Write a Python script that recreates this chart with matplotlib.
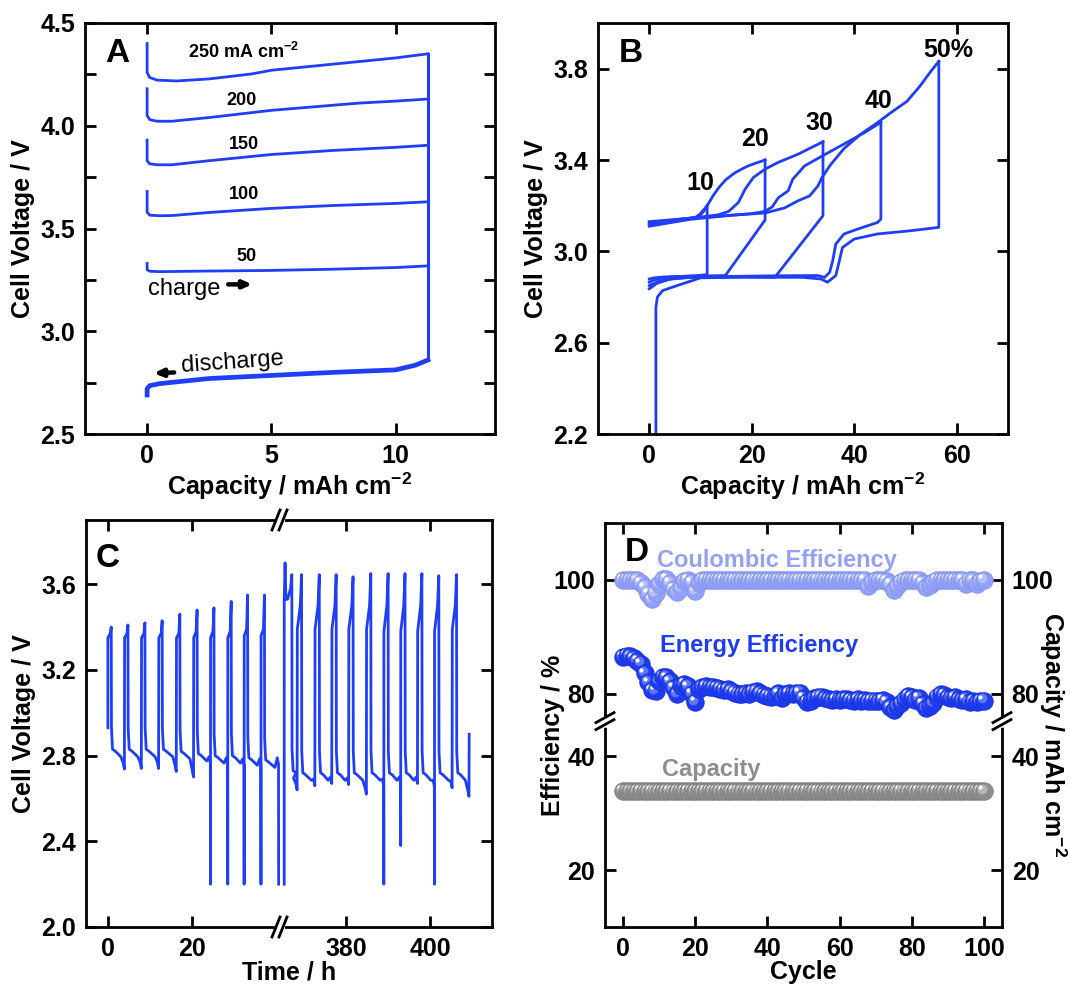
import numpy as np
import matplotlib
matplotlib.use('Agg')
import matplotlib.pyplot as plt
from matplotlib.ticker import MultipleLocator
from matplotlib.transforms import offset_copy

plt.rcParams['font.family'] = ['Liberation Sans', 'DejaVu Sans']
plt.rcParams['font.weight'] = 'bold'
plt.rcParams['axes.labelweight'] = 'bold'
plt.rcParams['mathtext.default'] = 'regular'
plt.rcParams['axes.linewidth'] = 2.0

# ---------------- Panel A data ----------------
a_cap_250 = [0, 0, 0.1, 0.4, 1.2, 2.5, 4.2, 5.0, 7.5, 10.0, 11.3]
a_v_250 = [4.40, 4.26, 4.235, 4.222, 4.218, 4.228, 4.252, 4.27, 4.30, 4.33, 4.35]
a_cap_200 = [0, 0, 0.1, 0.4, 1.0, 2.5, 5.0, 7.0, 8.5, 10.0, 11.3]
a_v_200 = [4.18, 4.05, 4.03, 4.022, 4.022, 4.04, 4.075, 4.095, 4.11, 4.12, 4.13]
a_cap_150 = [0, 0, 0.1, 0.4, 1.0, 2.5, 5.0, 7.5, 10.0, 11.3]
a_v_150 = [3.93, 3.83, 3.815, 3.81, 3.81, 3.83, 3.86, 3.88, 3.895, 3.905]
a_cap_100 = [0, 0, 0.1, 0.5, 1.0, 2.5, 5.0, 7.5, 10.0, 11.3]
a_v_100 = [3.68, 3.58, 3.565, 3.562, 3.563, 3.578, 3.598, 3.612, 3.622, 3.63]
a_cap_50 = [0, 0, 0.1, 0.5, 2.5, 5.0, 7.5, 10.0, 11.3]
a_v_50 = [3.33, 3.30, 3.292, 3.29, 3.293, 3.296, 3.302, 3.31, 3.318]
a_dis_cap = [11.3, 10.8, 10.0, 7.5, 5.0, 2.5, 0.5, 0.1, 0, 0]
a_dis_v = [2.86, 2.835, 2.812, 2.80, 2.785, 2.77, 2.745, 2.735, 2.72, 2.69]
a_labels = ['250 mA cm$^{-2}$', '200', '150', '100', '50']

# ---------------- Panel B data ----------------
b_c10_cap = [0, 3, 6, 9.0, 10.0, 10.8, 11.3]
b_c10_v = [3.115, 3.128, 3.138, 3.148, 3.16, 3.18, 3.20]
b_c20_cap = [0, 3, 6, 9.0, 10.0, 11.3, 12.5, 13.6, 15.0, 16.8, 18.2, 19.4, 21.0, 22.6]
b_c20_v = [3.12, 3.13, 3.14, 3.148, 3.165, 3.20, 3.245, 3.28, 3.315, 3.345, 3.362, 3.375, 3.388, 3.40]
b_c30_cap = [0, 5, 10, 13.5, 15.5, 17.4, 18.7, 20.3, 22.6, 25.2, 29.0, 33.9]
b_c30_v = [3.125, 3.138, 3.15, 3.16, 3.175, 3.214, 3.272, 3.323, 3.36, 3.39, 3.425, 3.48]
b_c40_cap = [0, 8, 16, 20, 22.6, 24.0, 25.2, 27.1, 28.0, 30.3, 33.7, 38, 42, 45.2]
b_c40_v = [3.13, 3.145, 3.158, 3.165, 3.175, 3.195, 3.235, 3.265, 3.316, 3.374, 3.417, 3.47, 3.52, 3.565]
b_c50_cap = [0, 8, 16, 22.6, 26.4, 29.0, 31.3, 32.9, 33.7, 35.4, 38, 41.2, 44.5, 47, 50.3, 52.8, 55, 56.5]
b_c50_v = [3.11, 3.14, 3.158, 3.168, 3.19, 3.221, 3.243, 3.286, 3.323, 3.38, 3.45, 3.512, 3.563, 3.605, 3.657, 3.723, 3.79, 3.832]

b_d10_cap = [11.3, 11.3, 9, 6, 3, 1, 0]
b_d10_v = [3.20, 2.898, 2.893, 2.89, 2.888, 2.884, 2.879]
b_d20_cap = [22.6, 22.6, 14.85, 10, 6, 3, 1, 0]
b_d20_v = [3.40, 3.137, 2.894, 2.892, 2.89, 2.885, 2.875, 2.865]
b_d30_cap = [33.9, 33.9, 24.5, 18, 10, 5, 2, 0]
b_d30_v = [3.48, 3.156, 2.886, 2.888, 2.888, 2.882, 2.87, 2.85]
b_d40_cap = [45.2, 45.2, 44.5, 40.6, 38.0, 36.4, 35.8, 35.2, 34.2, 32.9, 25, 15, 8, 4, 1.5, 0]
b_d40_v = [3.565, 3.141, 3.126, 3.097, 3.076, 3.032, 2.959, 2.908, 2.886, 2.894, 2.893, 2.89, 2.886, 2.878, 2.86, 2.836]
b_d50_cap = [56.5, 56.5, 50.9, 44.5, 40, 37.7, 37.1, 36.4, 34.8, 33.5, 30, 20, 10, 4.5, 2.6, 1.6, 1.3, 1.3]
b_d50_v = [3.832, 3.105, 3.09, 3.076, 3.054, 3.017, 2.959, 2.894, 2.865, 2.879, 2.886, 2.887, 2.884, 2.843, 2.828, 2.80, 2.755, 2.2]
b_labels = ['10', '20', '30', '40', '50%']
b_label_cap = [10.0, 20.6, 33.2, 44.7, 58.4]
b_label_v = [3.30, 3.49, 3.563, 3.657, 3.883]

# ---------------- Panel C data ----------------
c_v_initial = 2.93
c_left_t = [0, 3.97, 8.0, 12.1, 16.3, 20.4, 24.4, 28.5, 32.4, 36.4]
c_left_end = 40.6
c_left_vc = [3.35, 3.35, 3.35, 3.35, 3.35, 3.35, 3.35, 3.35, 3.36, 3.36]
c_left_vm = [3.37, 3.37, 3.37, 3.37, 3.37, 3.38, 3.38, 3.38, 3.39, 3.39]
c_left_vp = [3.40, 3.41, 3.42, 3.43, 3.46, 3.48, 3.49, 3.52, 3.55, 3.55]
c_left_vd0 = [2.83, 2.83, 2.83, 2.83, 2.82, 2.81, 2.80, 2.80, 2.79, 2.78]
c_left_vd1 = [2.737, 2.74, 2.74, 2.726, 2.70, 2.765, 2.76, 2.755, 2.755, 2.76]
c_left_dip = [np.nan, np.nan, np.nan, np.nan, np.nan, 2.2, 2.2, 2.2, 2.2, 2.2]
c_left_dur = 0.8

c_right_pre_t = 365.4
c_right_pre_v = [2.2, 3.53, 3.70, 3.53]
c_right_t = [366.2, 368.5, 372.7, 376.7, 380.7, 384.9, 389.0, 393.0, 397.0, 401.0, 405.2]
c_right_end = 409.2
c_right_vc = [3.53, 3.39, 3.39, 3.39, 3.39, 3.39, 3.38, 3.38, 3.38, 3.38, 3.39]
c_right_vm = [3.58, 3.50, 3.50, 3.50, 3.50, 3.50, 3.50, 3.50, 3.50, 3.50, 3.50]
c_right_vp = [3.645, 3.645, 3.645, 3.645, 3.635, 3.65, 3.65, 3.65, 3.65, 3.64, 3.645]
c_right_vd0 = [2.73, 2.72, 2.72, 2.72, 2.72, 2.72, 2.72, 2.72, 2.72, 2.72, 2.72]
c_right_vd1 = [2.64, 2.66, 2.67, 2.665, 2.62, 2.66, 2.67, 2.67, 2.655, 2.65, 2.61]
c_right_dip = [np.nan, np.nan, np.nan, np.nan, np.nan, 2.2, 2.38, np.nan, 2.2, np.nan, np.nan]
c_right_dur = 1.0
c_right_final_v = 2.90

# ---------------- Panel D data ----------------
d_cycle = list(range(101))
d_ce = [100.0, 100.0, 100.0, 100.0, 99.9, 99.5, 98.7, 97.6, 96.6, 97.7,
        99.2, 100.1, 100.2, 99.5, 98.4, 97.9, 98.6, 99.8, 100.0, 99.6,
        98.0, 99.4, 100.0, 100.0, 100.0, 100.0, 100.0, 100.0, 100.0, 100.0,
        100.0, 100.0, 100.0, 100.0, 100.0, 100.0, 100.0, 100.0, 100.0, 100.0,
        100.0, 100.0, 100.0, 100.0, 100.0, 100.0, 100.0, 100.0, 100.0, 100.0,
        100.0, 100.0, 100.0, 100.0, 100.0, 100.0, 100.0, 100.0, 100.0, 100.0,
        100.0, 100.0, 100.0, 100.0, 100.0, 100.0, 100.0, 100.0, 99.0, 99.6,
        100.0, 100.0, 100.0, 99.8, 99.3, 98.2, 99.0, 99.7, 100.0, 100.0,
        100.0, 100.0, 100.0, 99.5, 98.8, 99.1, 99.6, 100.0, 100.0, 100.0,
        100.0, 100.0, 100.0, 100.0, 100.0, 99.3, 100.0, 99.9, 99.3, 99.8, 100.0]
d_ee = [86.5, 86.7, 86.6, 86.2, 85.8, 85.3, 83.6, 82.0, 80.6, 80.5,
        82.3, 83.0, 82.9, 82.2, 81.0, 80.0, 81.4, 81.7, 81.3, 80.0,
        78.6, 80.8, 81.2, 81.3, 81.2, 81.1, 81.0, 80.9, 80.7, 80.8,
        80.4, 80.2, 80.0, 80.0, 80.1, 80.0, 80.3, 80.4, 80.1, 79.8,
        79.6, 79.5, 79.6, 80.1, 79.3, 79.9, 80.1, 80.0, 80.1, 80.2,
        79.3, 78.6, 78.8, 79.2, 79.4, 79.5, 79.2, 79.0, 78.9, 79.0,
        78.9, 79.0, 79.1, 78.9, 78.8, 79.0, 78.8, 78.9, 78.7, 78.8,
        78.8, 78.7, 78.9, 78.6, 77.6, 77.2, 77.9, 78.3, 79.0, 79.6,
        79.4, 78.9, 79.3, 78.2, 77.5, 77.8, 78.3, 79.5, 79.9, 79.8,
        79.4, 79.3, 79.4, 79.0, 78.9, 79.0, 78.6, 78.7, 78.5, 78.7, 78.8]
d_cap = [33.9] * 101

# ---------------- styling ----------------
W, H = 1070, 984
fig = plt.figure(figsize=(W / 100, H / 100), dpi=100)


def box(l, t, r, b):
    return [l / W, 1 - b / H, (r - l) / W, (b - t) / H]


BLUE = '#1f3ef5'
FS_TICK = 18
FS_LAB = 18


def style(ax, top=True, right=True):
    ax.tick_params(which='both', direction='in', length=8, width=2,
                   labelsize=FS_TICK, top=top, right=right, pad=7)
    for lab in ax.get_xticklabels() + ax.get_yticklabels():
        lab.set_fontweight('bold')


def letter(ax, s, y=0.925):
    ax.text(0.05, y, s, transform=ax.transAxes, fontsize=24,
            fontweight='bold', ha='left', va='center')


# ---------------- Panel A ----------------
axA = fig.add_axes(box(85, 23, 495, 434))
for cap, v in [(a_cap_250, a_v_250), (a_cap_200, a_v_200), (a_cap_150, a_v_150),
               (a_cap_100, a_v_100), (a_cap_50, a_v_50)]:
    axA.plot(cap, v, color=BLUE, lw=2)
axA.plot([a_cap_250[-1], a_cap_250[-1]], [a_v_250[-1], a_dis_v[0]], color=BLUE, lw=2.2)
axA.plot(a_dis_cap, a_dis_v, color=BLUE, lw=3.4)
lab_pos = [(3.9, 4.36), (3.8, 4.125), (3.9, 3.91), (3.9, 3.665), (4.0, 3.365)]
for s, (x, y) in zip(a_labels, lab_pos):
    axA.text(x, y, s, fontsize=13, fontweight='bold', ha='center', va='center')
axA.text(0.05, 3.205, 'charge', fontsize=17, fontweight='normal', ha='left', va='center')
axA.annotate('', xy=(4.35, 3.228), xytext=(3.15, 3.228),
             arrowprops=dict(arrowstyle='-|>,head_length=0.5,head_width=0.22', lw=3.2, color='k'))
axA.text(1.35, 2.85, 'discharge', fontsize=17, fontweight='normal', ha='left', va='center',
         rotation=4)
axA.annotate('', xy=(0.15, 2.795), xytext=(1.2, 2.800),
             arrowprops=dict(arrowstyle='-|>,head_length=0.5,head_width=0.22', lw=3.2, color='k'))
axA.set_xlim(-2.5, 14)
axA.set_ylim(2.5, 4.5)
axA.set_xticks([0, 5, 10])
axA.set_yticks([2.5, 3.0, 3.5, 4.0, 4.5])
axA.yaxis.set_minor_locator(MultipleLocator(0.25))
axA.set_xlabel('Capacity / mAh cm$^{-2}$', fontsize=FS_LAB, labelpad=2)
axA.set_ylabel('Cell Voltage / V', fontsize=FS_LAB)
style(axA)
letter(axA, 'A')

# ---------------- Panel B ----------------
axB = fig.add_axes(box(598, 23, 1008, 434))
for cap, v in [(b_c10_cap, b_c10_v), (b_c20_cap, b_c20_v), (b_c30_cap, b_c30_v),
               (b_c40_cap, b_c40_v), (b_c50_cap, b_c50_v),
               (b_d10_cap, b_d10_v), (b_d20_cap, b_d20_v), (b_d30_cap, b_d30_v),
               (b_d40_cap, b_d40_v), (b_d50_cap, b_d50_v)]:
    axB.plot(cap, v, color=BLUE, lw=2)
for s, x, y in zip(b_labels, b_label_cap, b_label_v):
    axB.text(x, y, s, fontsize=18, fontweight='bold', ha='center', va='center')
axB.set_xlim(-10, 70)
axB.set_ylim(2.2, 4.0)
axB.set_xticks([0, 20, 40, 60])
axB.set_yticks([2.2, 2.6, 3.0, 3.4, 3.8])
axB.set_xlabel('Capacity / mAh cm$^{-2}$', fontsize=FS_LAB, labelpad=2)
axB.set_ylabel('Cell Voltage / V', fontsize=FS_LAB)
style(axB)
letter(axB, 'B')


# ---------------- Panel C ----------------
def build_cycles(t, vc, vm, vp, vd0, vd1, dip, t_end, dur):
    xs, ys = [], []
    for i in range(len(t)):
        t0 = t[i]
        tn = t[i + 1] if i + 1 < len(t) else t_end
        xs += [t0, t0 + 0.7 * dur, t0 + dur, t0 + dur + 0.05, t0 + dur + 0.3,
               t0 + dur + 1.0, tn - 0.9, tn - 0.35, tn - 0.05]
        ys += [vc[i], vm[i], vp[i], vd0[i] + 0.1, vd0[i],
               vd0[i] - 0.01, vd0[i] - 0.035, vd1[i] + 0.03, vd1[i]]
        if not np.isnan(dip[i]):
            xs += [tn - 0.02]
            ys += [dip[i]]
    return xs, ys


c_l, c_b, c_r, c_t, c_brk = 86, 927, 492, 520, 280
axC1 = fig.add_axes(box(c_l, c_t, c_brk, c_b))
axC2 = fig.add_axes(box(c_brk, c_t, c_r, c_b))
xl, yl = build_cycles(c_left_t, c_left_vc, c_left_vm, c_left_vp, c_left_vd0,
                      c_left_vd1, c_left_dip, c_left_end, c_left_dur)
axC1.plot([c_left_t[0]] + xl, [c_v_initial] + yl, color=BLUE, lw=2)
xr, yr = build_cycles(c_right_t, c_right_vc, c_right_vm, c_right_vp, c_right_vd0,
                      c_right_vd1, c_right_dip, c_right_end, c_right_dur)
pre_x = [c_right_pre_t, c_right_pre_t, c_right_pre_t + 0.2, c_right_pre_t + 0.4]
axC2.plot(pre_x + xr + [c_right_end], c_right_pre_v + yr + [c_right_final_v],
          color=BLUE, lw=2)
axC1.set_xlim(-5.2, 40.9)
axC2.set_xlim(364.4, 414.6)
for ax in (axC1, axC2):
    ax.set_ylim(2.0, 3.9)
    ax.set_yticks([2.0, 2.4, 2.8, 3.2, 3.6])
axC1.set_xticks([0, 20])
axC2.set_xticks([380, 400])
style(axC1, right=False)
style(axC2)
axC2.tick_params(axis='y', left=False, labelleft=False)
axC1.spines['right'].set_visible(False)
axC2.spines['left'].set_visible(False)
axC1.set_ylabel('Cell Voltage / V', fontsize=FS_LAB)
fig.text((c_l + c_r) / 2 / W, 1 - 972 / H, 'Time / h', fontsize=FS_LAB,
         fontweight='bold', ha='center', va='center')
letter(axC1, 'C', y=0.905)
for yy in (c_t, c_b):
    fig.add_artist(plt.Line2D([(c_brk - 3) / W, (c_brk + 3) / W],
                              [1 - yy / H, 1 - yy / H], color='white', lw=3,
                              transform=fig.transFigure))
    for dx in (-4, 3):
        fig.add_artist(plt.Line2D([(c_brk + dx - 4) / W, (c_brk + dx + 4) / W],
                                  [1 - (yy + 10) / H, 1 - (yy - 10) / H],
                                  color='k', lw=2, transform=fig.transFigure))

# ---------------- Panel D ----------------
d_l, d_r, d_t, d_b = 605, 1002, 523, 927
upper_lim = (75.1, 110)
lower_lim = (10, 46.1)
span = (upper_lim[1] - upper_lim[0]) + (lower_lim[1] - lower_lim[0])
d_brk = d_t + (d_b - d_t) * (upper_lim[1] - upper_lim[0]) / span
axDu = fig.add_axes(box(d_l, d_t, d_r, d_brk))
axDl = fig.add_axes(box(d_l, d_brk, d_r, d_b))


def spheres(ax, x, y, base, dark, light):
    tr1 = offset_copy(ax.transData, fig=fig, x=-1.5, y=1.5, units='points')
    tr2 = offset_copy(ax.transData, fig=fig, x=-2.6, y=2.6, units='points')
    for xi, yi in zip(x, y):
        ax.plot([xi], [yi], 'o', ms=12.5, mfc=base, mec=dark, mew=0.7, zorder=3)
        ax.plot([xi], [yi], 'o', ms=7, mfc=light, mec='none', transform=tr1, zorder=3)
        ax.plot([xi], [yi], 'o', ms=3, mfc='white', mec='none', transform=tr2, zorder=3)


spheres(axDu, d_cycle, d_ce, '#93a1f6', '#8595f2', '#b6c0fa')
spheres(axDu, d_cycle, d_ee, '#1f3cf0', '#1a33e0', '#5f76f7')
spheres(axDl, d_cycle, d_cap, '#8e8e8e', '#808080', '#b5b5b5')
axDu.text(9.3, 103.4, 'Coulombic Efficiency', color='#93a1f6', fontsize=17,
          fontweight='bold', ha='left', va='center')
axDu.text(10.3, 88.4, 'Energy Efficiency', color='#1f3cf0', fontsize=17,
          fontweight='bold', ha='left', va='center')
axDl.text(10.8, 37.6, 'Capacity', color='#8e8e8e', fontsize=17,
          fontweight='bold', ha='left', va='center')
for ax in (axDu, axDl):
    ax.set_xlim(-5, 105)
    ax.set_xticks([0, 20, 40, 60, 80, 100])
axDu.set_ylim(*upper_lim)
axDl.set_ylim(*lower_lim)
axDu.set_yticks([80, 100])
axDl.set_yticks([20, 40])
style(axDu)
style(axDl)
axDu.tick_params(axis='x', bottom=False, labelbottom=False)
axDl.tick_params(axis='x', top=False)
for ax in (axDu, axDl):
    ax.tick_params(axis='y', labelright=True)
axDu.spines['bottom'].set_visible(False)
axDl.spines['top'].set_visible(False)
fig.text((d_l + d_r) / 2 / W, 1 - 972 / H, 'Cycle', fontsize=FS_LAB,
         fontweight='bold', ha='center', va='center')
fig.text(553 / W, 1 - 735 / H, 'Efficiency / %', rotation=90, fontsize=FS_LAB,
         fontweight='bold', ha='center', va='center')
fig.text(1053 / W, 1 - 735 / H, 'Capacity / mAh cm$^{-2}$', rotation=-90,
         fontsize=FS_LAB, fontweight='bold', ha='center', va='center')
letter(axDu, 'D', y=0.85)
for xx in (d_l, d_r):
    fig.add_artist(plt.Line2D([xx / W, xx / W], [1 - (d_brk - 3) / H, 1 - (d_brk + 3) / H],
                              color='white', lw=4, transform=fig.transFigure))
    for dy in (-4, 3):
        fig.add_artist(plt.Line2D([(xx - 9) / W, (xx + 9) / W],
                                  [1 - (d_brk + dy + 5) / H, 1 - (d_brk + dy - 5) / H],
                                  color='k', lw=2, transform=fig.transFigure))

fig.savefig('out.png', dpi=100)
